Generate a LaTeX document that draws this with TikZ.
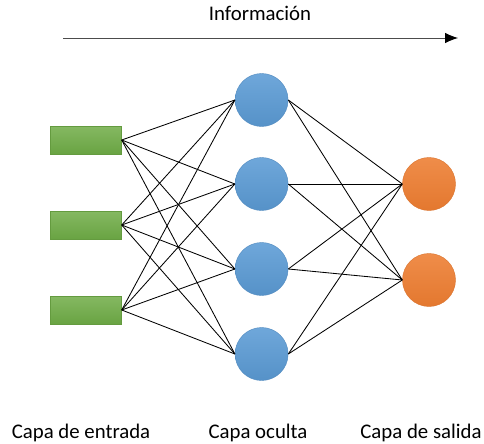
\documentclass[tikz,border=0pt]{standalone}
\usepackage{fontspec}
\setmainfont{Carlito}
\usepackage{tikz}
\usetikzlibrary{arrows.meta}

\definecolor{verde}{HTML}{6FAC46}
\definecolor{azul}{HTML}{5B9BD5}
\definecolor{naranja}{HTML}{ED7D31}

\begin{document}
\begin{tikzpicture}[
    font=\fontsize{14.8}{18}\selectfont,
    entrada/.style={rectangle, minimum width=1.775cm, minimum height=0.7cm, inner sep=0pt, draw=verde!90!black, line width=0.3pt, top color=verde!85!white, bottom color=verde!95!black},
    oculta/.style={circle, minimum size=1.325cm, inner sep=0pt, draw=azul!90!black, line width=0.3pt, top color=azul!88!white, bottom color=azul!94!black},
    salida/.style={circle, minimum size=1.325cm, inner sep=0pt, draw=naranja!92!black, line width=0.3pt, top color=naranja!88!white, bottom color=naranja!96!black},
    enlace/.style={line width=0.6pt, black},
    capa/.style={anchor=base, inner sep=0pt}
]
        \useasboundingbox (0,0) rectangle (12.1,11.075);

        % Informacion
        \node[capa] (info) at (6.5,10.5625) {Información};
        \coordinate (infoA) at (1.575,10.125);
        \coordinate (infoB) at (11.45,10.125);
        \draw[line width=0.6pt, black!70, -{Latex[length=3.2mm,width=2.6mm,black]}] (infoA) -- (infoB);

        % Capa de entrada
        \node[entrada] (entrada1) at (2.15,7.575) {};
        \node[entrada] (entrada2) at (2.15,5.45) {};
        \node[entrada] (entrada3) at (2.15,3.325) {};

        % Capa oculta
        \node[oculta] (oculta1) at (6.54,8.575) {};
        \node[oculta] (oculta2) at (6.54,6.475) {};
        \node[oculta] (oculta3) at (6.54,4.35) {};
        \node[oculta] (oculta4) at (6.54,2.225) {};

        % Capa de salida
        \node[salida] (salida1) at (10.725,6.475) {};
        \node[salida] (salida2) at (10.725,4.075) {};

        % Etiquetas
        \node[capa] (etqentrada) at (2.025,0.125) {Capa de entrada};
        \node[capa] (etqoculta) at (6.45,0.125) {Capa oculta};
        \node[capa] (etqsalida) at (10.525,0.125) {Capa de salida};

        % Enlaces
        \draw[enlace] (entrada1.east) -- (oculta1.west);
        \draw[enlace] (entrada1.east) -- (oculta2.west);
        \draw[enlace] (entrada1.east) -- (oculta3.west);
        \draw[enlace] (entrada1.east) -- (oculta4.west);
        \draw[enlace] (entrada2.east) -- (oculta1.west);
        \draw[enlace] (entrada2.east) -- (oculta2.west);
        \draw[enlace] (entrada2.east) -- (oculta3.west);
        \draw[enlace] (entrada2.east) -- (oculta4.west);
        \draw[enlace] (entrada3.east) -- (oculta1.west);
        \draw[enlace] (entrada3.east) -- (oculta2.west);
        \draw[enlace] (entrada3.east) -- (oculta3.west);
        \draw[enlace] (entrada3.east) -- (oculta4.west);
        \draw[enlace] (oculta1.east) -- (salida1.west);
        \draw[enlace] (oculta1.east) -- (salida2.west);
        \draw[enlace] (oculta2.east) -- (salida1.west);
        \draw[enlace] (oculta2.east) -- (salida2.west);
        \draw[enlace] (oculta3.east) -- (salida1.west);
        \draw[enlace] (oculta3.east) -- (salida2.west);
        \draw[enlace] (oculta4.east) -- (salida1.west);
        \draw[enlace] (oculta4.east) -- (salida2.west);
    \end{tikzpicture}
\end{document}
